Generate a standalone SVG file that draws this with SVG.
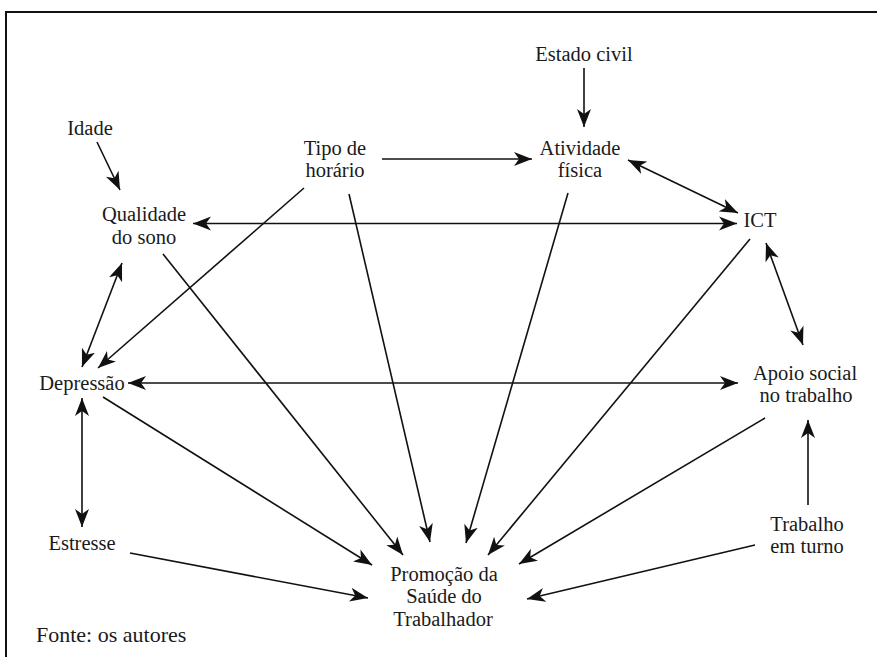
<svg xmlns="http://www.w3.org/2000/svg" width="877" height="657" viewBox="0 0 877 657">
<style>
text{font-size:20.5px;fill:#1a1a1a;text-anchor:middle}
.c line{stroke:#111;stroke-width:1.6;fill:none}
.a line{marker-end:url(#ah)}
.b line{marker-start:url(#ah);marker-end:url(#ah)}
</style>
<defs>
<marker id="ah" markerUnits="userSpaceOnUse" markerWidth="20" markerHeight="16" refX="18" refY="7" orient="auto-start-reverse" viewBox="0 0 20 14">
<path d="M0,0 L18,7 L0,14 L5,7 z" fill="#111"/>
</marker>
</defs>
<rect width="877" height="657" fill="#fff"/>
<path d="M6,657 V12 H877" fill="none" stroke="#111" stroke-width="2"/>
<g font-family="Liberation Serif">
<g id="estado-civil"><text x="584" y="61">Estado civil</text></g>
<g id="idade"><text x="90" y="135">Idade</text></g>
<g id="tipo-horario"><text x="335" y="155">Tipo de</text><text x="335" y="177">horário</text></g>
<g id="atividade-fisica"><text x="580" y="155">Atividade</text><text x="580" y="177">física</text></g>
<g id="qualidade-sono"><text x="144" y="221">Qualidade</text><text x="144" y="244">do sono</text></g>
<g id="ict"><text x="760" y="227">ICT</text></g>
<g id="depressao"><text x="82" y="390">Depressão</text></g>
<g id="apoio-social"><text x="805" y="380">Apoio social</text><text x="806" y="402">no trabalho</text></g>
<g id="estresse"><text x="82" y="550">Estresse</text></g>
<g id="trabalho-turno"><text x="807" y="531">Trabalho</text><text x="807" y="553">em turno</text></g>
<g id="promocao"><text x="444" y="581">Promoção da</text><text x="444" y="603">Saúde do</text><text x="443" y="626">Trabalhador</text></g>
<g id="fonte"><text x="36" y="642" style="text-anchor:start;font-size:22px">Fonte: os autores</text></g>
</g>
<g id="connectors" class="c">
<g class="a">
<line x1="584" y1="68" x2="584" y2="127"/>
<line x1="97" y1="142" x2="120" y2="190"/>
<line x1="382" y1="159" x2="532" y2="159"/>
<line x1="304" y1="188" x2="98" y2="368"/>
<line x1="163" y1="254" x2="403" y2="555"/>
<line x1="349" y1="194" x2="430" y2="542"/>
<line x1="568" y1="193" x2="466" y2="543"/>
<line x1="750" y1="239" x2="488" y2="555"/>
<line x1="765" y1="418" x2="519" y2="564"/>
<line x1="808" y1="505" x2="808" y2="420"/>
<line x1="755" y1="545" x2="527" y2="599"/>
<line x1="103" y1="397" x2="372" y2="565"/>
<line x1="130" y1="553" x2="368" y2="598"/>
</g>
<g class="b">
<line x1="193" y1="223.5" x2="737" y2="223.5"/>
<line x1="628" y1="160" x2="738" y2="213"/>
<line x1="766" y1="243" x2="803" y2="345"/>
<line x1="128" y1="383" x2="738" y2="383"/>
<line x1="122" y1="263" x2="82" y2="367"/>
<line x1="82" y1="398" x2="82" y2="527"/>
</g>
</g>
</svg>
